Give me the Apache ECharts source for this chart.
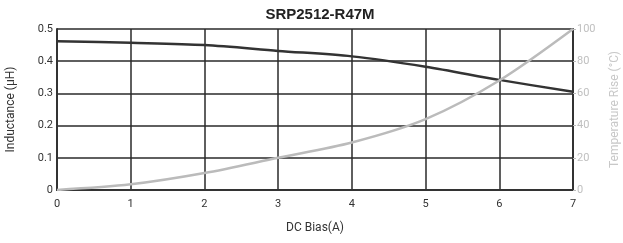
<!DOCTYPE html>
<html>
<head>
<meta charset="utf-8">
<title>SRP2512-R47M</title>
<script src="https://cdn.jsdelivr.net/npm/echarts@6/dist/echarts.min.js"></script>
</head>
<body style="margin:0">
<div id="main" style="width:623px;height:243px;"></div>
<script>
var bias = [0, 1, 2, 3, 4, 5, 6, 7];
var inductance = [0.462, 0.457, 0.45, 0.432, 0.415, 0.383, 0.342, 0.305];
var tempRise = [0, 3.5, 10.5, 20, 29.5, 44, 68, 100];

var myChart = echarts.init(document.getElementById('main'));
function pairs(ys) {
    return bias.map(function (x, i) { return [x, ys[i]]; });
}
var option = {
    animation: false,
    title: {
        text: 'SRP2512-R47M',
        left: 315, top: 2, textAlign: 'center',
        textStyle: { fontFamily: 'Liberation Sans', fontSize: 15, fontWeight: 'bold', color: '#222' }
    },
    grid: { left: 57, right: 50, top: 29, bottom: 53, outerBoundsMode: 'none' },
    xAxis: {
        type: 'value', min: 0, max: 7, interval: 1,
        name: 'DC Bias(A)', nameLocation: 'middle', nameGap: 32,
        nameTextStyle: { fontFamily: 'Roboto', fontSize: 12, color: '#333' },
        axisLine: { lineStyle: { color: '#333', width: 2 } },
        axisTick: { show: false },
        axisLabel: { fontFamily: 'Roboto', fontSize: 11, color: '#333', margin: 9 },
        splitLine: { lineStyle: { color: '#2a2a2a', width: 1.5 } }
    },
    yAxis: [{
        type: 'value', min: 0, max: 0.5, interval: 0.1,
        name: 'Inductance (µH)', nameLocation: 'middle', nameGap: 40,
        nameTextStyle: { fontFamily: 'Roboto', fontSize: 12, color: '#333' },
        axisLine: { show: true, lineStyle: { color: '#333', width: 2 } },
        axisTick: { show: false },
        axisLabel: { fontFamily: 'Roboto', fontSize: 11, color: '#333', margin: 4 },
        splitLine: { lineStyle: { color: '#2a2a2a', width: 1.5 } }
    }, {
        type: 'value', min: 0, max: 100, interval: 20, position: 'right',
        name: 'Temperature Rise (°C)', nameLocation: 'middle', nameGap: 36, nameRotate: 90,
        nameTextStyle: { fontFamily: 'Roboto', fontSize: 12, color: '#c8c8c8' },
        axisLine: { show: true, lineStyle: { color: '#333', width: 2 } },
        axisTick: { show: true, length: 3, lineStyle: { color: '#bbb' } },
        axisLabel: { fontFamily: 'Roboto', fontSize: 11, color: '#c0c0c0', margin: 4 },
        splitLine: { show: false }
    }],
    series: [{
        type: 'line', yAxisIndex: 0, data: pairs(inductance),
        showSymbol: false, smooth: 0.3,
        lineStyle: { color: '#333', width: 2.5 }
    }, {
        type: 'line', yAxisIndex: 1, data: pairs(tempRise),
        showSymbol: false, smooth: 0.3,
        lineStyle: { color: '#bbb', width: 2.5 }
    }]
};
myChart.setOption(option);
</script>
</body>
</html>
